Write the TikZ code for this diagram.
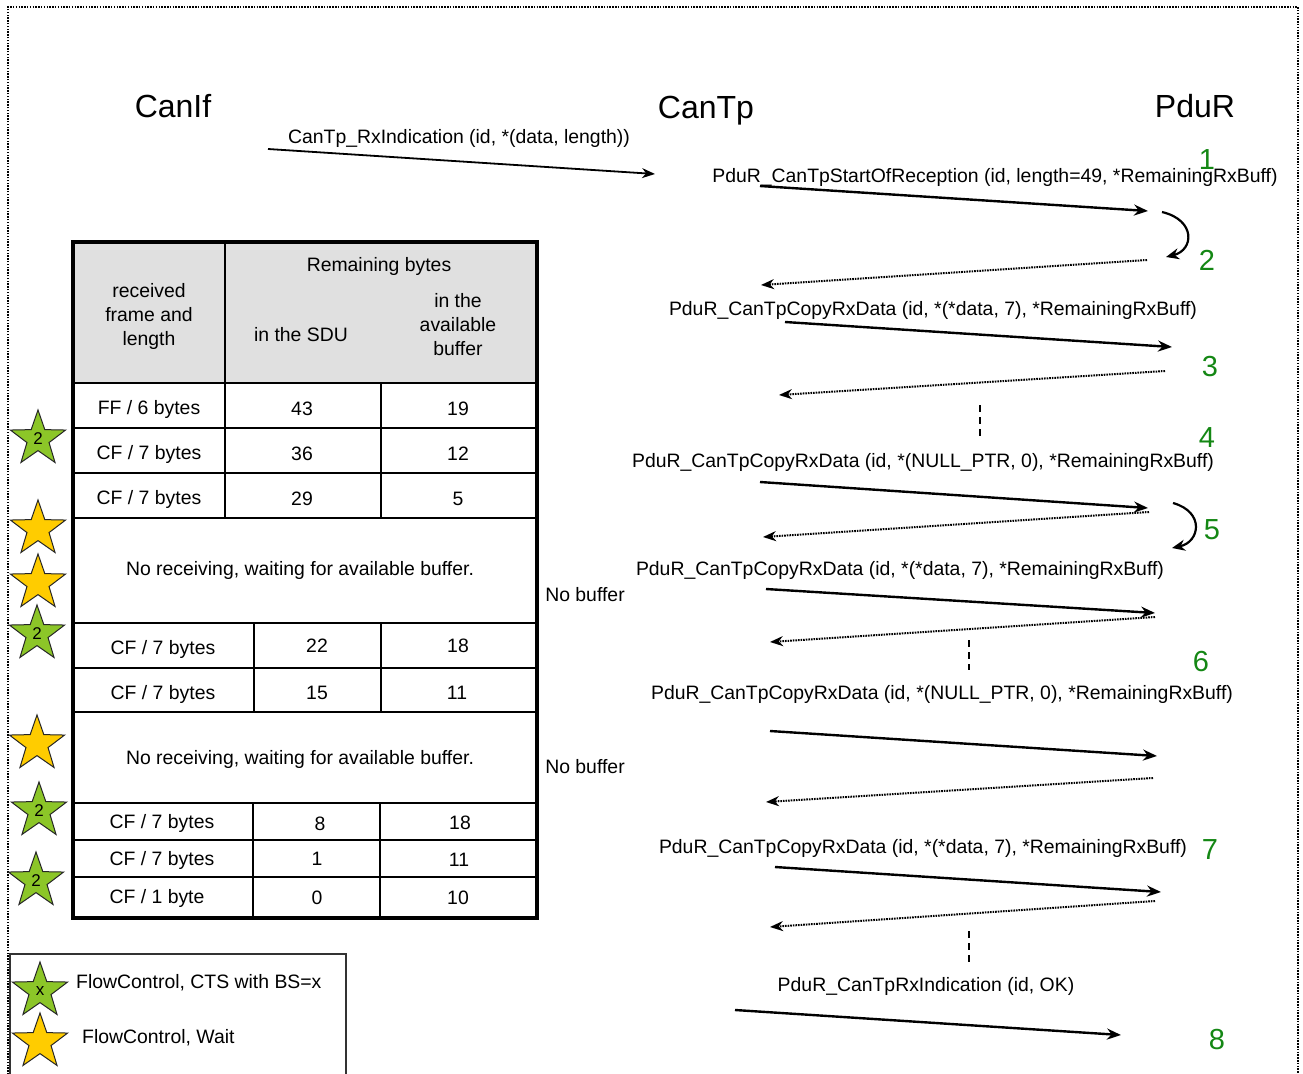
\documentclass[tikz,border=0pt]{standalone}
\usepackage{fontspec}
\setmainfont{Liberation Sans}
\usetikzlibrary{arrows.meta,shapes.geometric}
\definecolor{gfill}{RGB}{140,198,40}
\definecolor{yfill}{RGB}{255,204,0}
\definecolor{numgreen}{RGB}{20,135,20}
\definecolor{hdrgray}{RGB}{224,224,224}
\begin{document}
\begin{tikzpicture}[x=1pt,y=-1pt,
 lbl/.style={font=\fontsize{19.4}{24}\selectfont, inner sep=0pt, align=center, yshift=-2pt},
 titletext/.style={font=\fontsize{32}{38}\selectfont, inner sep=0pt},
 num/.style={font=\fontsize{29}{34}\selectfont, text=numgreen, inner sep=0pt},
 call/.style={line width=2.4pt, -{Stealth[length=14pt,width=11pt]}},
 callthin/.style={line width=1.8pt, -{Stealth[length=13pt,width=10pt]}},
 ret/.style={line width=2pt, dash pattern=on 1.6pt off 1.0pt, -{Stealth[length=13pt,width=10pt]}},
 loopback/.style={line width=2.2pt, -{Stealth[length=13pt,width=11pt]}},
 vdash/.style={line width=1.8pt, dash pattern=on 7pt off 5pt},
 frame/.style={line width=1.6pt, dash pattern=on 1.5pt off 1.3pt},
 thick/.style={line width=4pt},
 thin/.style={line width=2pt},
 gstar/.style={star, star points=5, star point ratio=2.5, minimum size=58pt, inner sep=0pt,
   fill=gfill, draw=black!85, line width=1pt, font=\fontsize{17}{20}\selectfont},
 ystar/.style={star, star points=5, star point ratio=2.5, minimum size=58pt, inner sep=0pt,
   fill=yfill, draw=black!85, line width=1pt}
]
\useasboundingbox (0,0) rectangle (1303,1073);
% outer dotted frame
\draw[frame] (8,1080) -- (8,7) -- (1298,7) -- (1298,1080);

% titles
\node[titletext] (canif) at (173,106) {CanIf};
\node[titletext] (cantp) at (706,111) {CanTp};
\node[titletext] (pdur) at (1195,106) {PduR};

% messages
\node[lbl] (m0) at (459,136) {CanTp\_RxIndication (id, *(data, length))};
\node[lbl] (m1) at (995,175) {PduR\_CanTpStartOfReception (id, length=49, *RemainingRxBuff)};
\node[lbl] (m2) at (933,308) {PduR\_CanTpCopyRxData (id, *(*data, 7), *RemainingRxBuff)};
\node[lbl] (m3) at (923,460) {PduR\_CanTpCopyRxData (id, *(NULL\_PTR, 0), *RemainingRxBuff)};
\node[lbl] (m4) at (900,568) {PduR\_CanTpCopyRxData (id, *(*data, 7), *RemainingRxBuff)};
\node[lbl] (m5) at (942,692) {PduR\_CanTpCopyRxData (id, *(NULL\_PTR, 0), *RemainingRxBuff)};
\node[lbl] (m6) at (923,846) {PduR\_CanTpCopyRxData (id, *(*data, 7), *RemainingRxBuff)};
\node[lbl] (m7) at (926,984) {PduR\_CanTpRxIndication (id, OK)};

% step numbers
\node[num] (n1) at (1207,160) {1};
\node[num] (n2) at (1207,260) {2};
\node[num] (n3) at (1210,367) {3};
\node[num] (n4) at (1207,438) {4};
\node[num] (n5) at (1212,530) {5};
\node[num] (n6) at (1201,662) {6};
\node[num] (n7) at (1210,850) {7};
\node[num] (n8) at (1217,1040) {8};

% arrow end coordinates
\coordinate (a0s) at (268,149); \coordinate (a0e) at (655,174);
\coordinate (a1s) at (760,186); \coordinate (a1e) at (1148,211);
\coordinate (c1s) at (1162,212); \coordinate (c1e) at (1166,257);
\coordinate (d1s) at (1147,260); \coordinate (d1e) at (761,285);
\coordinate (a2s) at (785,322); \coordinate (a2e) at (1172,347);
\coordinate (d2s) at (1165,371); \coordinate (d2e) at (779,395);
\coordinate (v1s) at (980,405); \coordinate (v1e) at (980,438);
\coordinate (a3s) at (760,482); \coordinate (a3e) at (1148,508);
\coordinate (d3s) at (1149,512); \coordinate (d3e) at (763,537);
\coordinate (c2s) at (1173,503); \coordinate (c2e) at (1172,548);
\coordinate (a4s) at (766,589); \coordinate (a4e) at (1155,613);
\coordinate (d4s) at (1155,617); \coordinate (d4e) at (770,642);
\coordinate (v2s) at (969,640); \coordinate (v2e) at (969,670);
\coordinate (a5s) at (770,731); \coordinate (a5e) at (1157,756);
\coordinate (d5s) at (1153,778); \coordinate (d5e) at (766,802);
\coordinate (a6s) at (775,867); \coordinate (a6e) at (1161,892);
\coordinate (d6s) at (1155,901); \coordinate (d6e) at (770,927);
\coordinate (v3s) at (969,931); \coordinate (v3e) at (969,962);
\coordinate (a7s) at (735,1010); \coordinate (a7e) at (1121,1035);

\draw[callthin] (a0s) -- (a0e);
\draw[call] (a1s) -- (a1e);
\draw[loopback] (c1s) .. controls (1196,220) and (1194,250) .. (c1e);
\draw[ret] (d1s) -- (d1e);
\draw[call] (a2s) -- (a2e);
\draw[ret] (d2s) -- (d2e);
\draw[vdash] (v1s) -- (v1e);
\draw[call] (a3s) -- (a3e);
\draw[ret] (d3s) -- (d3e);
\draw[loopback] (c2s) .. controls (1205,512) and (1200,542) .. (c2e);
\draw[call] (a4s) -- (a4e);
\draw[ret] (d4s) -- (d4e);
\draw[vdash] (v2s) -- (v2e);
\draw[call] (a5s) -- (a5e);
\draw[ret] (d5s) -- (d5e);
\draw[call] (a6s) -- (a6e);
\draw[ret] (d6s) -- (d6e);
\draw[vdash] (v3s) -- (v3e);
\draw[call] (a7s) -- (a7e);

\node[lbl] (nb1) at (585,593) {No buffer};
\node[lbl] (nb2) at (585,765) {No buffer};

% table
\fill[hdrgray] (73,242) rectangle (537,383);
\foreach \yy in {383,428,473,518,623,668,712,803,840,877}
  \draw[thin] (73,\yy) -- (537,\yy);
\draw[thin] (225,242) -- (225,518);
\draw[thin] (381,383) -- (381,518);
\draw[thin] (254,623) -- (254,712);
\draw[thin] (381,623) -- (381,712);
\draw[thin] (253,803) -- (253,916);
\draw[thin] (380,803) -- (380,916);
\draw[thick] (73,242) rectangle (537,918);

\node[lbl] (h1) at (149,314) {received\\frame and\\length};
\node[lbl] (h2) at (379,264) {Remaining bytes};
\node[lbl] (h3) at (301,333) {in the SDU};
\node[lbl] (h4) at (458,323) {in the\\available\\buffer};

\node[lbl] (r1a) at (149,407) {FF / 6 bytes};
\node[lbl] (r1b) at (302,407) {43};
\node[lbl] (r1c) at (458,407) {19};
\node[lbl] (r2a) at (149,452) {CF / 7 bytes};
\node[lbl] (r2b) at (302,452) {36};
\node[lbl] (r2c) at (458,452) {12};
\node[lbl] (r3a) at (149,497) {CF / 7 bytes};
\node[lbl] (r3b) at (302,497) {29};
\node[lbl] (r3c) at (458,497) {5};
\node[lbl] (w1) at (300,568) {No receiving, waiting for available buffer.};
\node[lbl] (r4a) at (163,647) {CF / 7 bytes};
\node[lbl] (r4b) at (317,644) {22};
\node[lbl] (r4c) at (458,644) {18};
\node[lbl] (r5a) at (163,692) {CF / 7 bytes};
\node[lbl] (r5b) at (317,691) {15};
\node[lbl] (r5c) at (457,691) {11};
\node[lbl] (w2) at (300,757) {No receiving, waiting for available buffer.};
\node[lbl] (r6a) at (162,821) {CF / 7 bytes};
\node[lbl] (r6b) at (320,822) {8};
\node[lbl] (r6c) at (460,821) {18};
\node[lbl] (r7a) at (162,858) {CF / 7 bytes};
\node[lbl] (r7b) at (317,857) {1};
\node[lbl] (r7c) at (459,858) {11};
\node[lbl] (r8a) at (157,896) {CF / 1 byte};
\node[lbl] (r8b) at (317,896) {0};
\node[lbl] (r8c) at (458,896) {10};

% stars
\node[gstar] (s1) at (38,439) {2};
\node[ystar] (s2) at (38,529) {};
\node[ystar] (s3) at (38,583) {};
\node[gstar] (s4) at (37,634) {2};
\node[ystar] (s5) at (37,744) {};
\node[gstar] (s6) at (39,811) {2};
\node[gstar] (s7) at (36,881) {2};

% legend
\draw[line width=1.2pt, draw=black!80] (10,1080) -- (10,954) -- (346,954) -- (346,1080);
\node[gstar] (ls1) at (40,991) {x};
\node[ystar] (ls2) at (40,1042) {};
\node[lbl, anchor=west] (lt1) at (76,981) {FlowControl, CTS with BS=x};
\node[lbl, anchor=west] (lt2) at (82,1036) {FlowControl, Wait};
\end{tikzpicture}
\end{document}
